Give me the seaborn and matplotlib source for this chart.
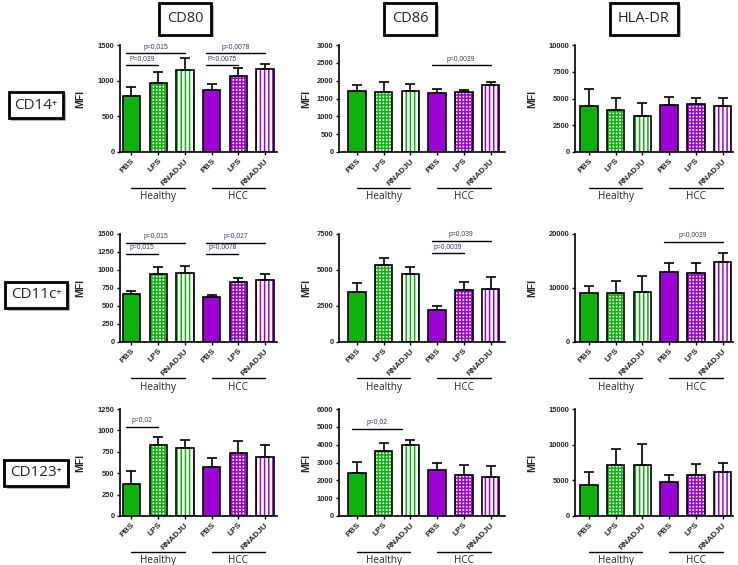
import numpy as np
import pandas as pd
import matplotlib
matplotlib.use('Agg')
import matplotlib.pyplot as plt
import matplotlib.patheffects as pe
from matplotlib.patches import Rectangle
import matplotlib.transforms as mtrans
import seaborn as sns

# ---- data ----
conditions = ['PBS', 'LPS', 'RNADJU']
groups = ['Healthy', 'HCC']
markers = ['CD80', 'CD86', 'HLA-DR']
populations = ['CD14\u207a', 'CD11c\u207a', 'CD123\u207a']

# bar order: Healthy PBS, LPS, RNADJU, HCC PBS, LPS, RNADJU
cd14_cd80 = [790, 970, 1150, 875, 1060, 1160]
cd14_cd80_err = [117, 158, 170, 80, 112, 75]
cd14_cd86 = [1720, 1695, 1710, 1665, 1675, 1880]
cd14_cd86_err = [160, 260, 190, 115, 75, 95]
cd14_hla = [4330, 3900, 3370, 4430, 4490, 4330]
cd14_hla_err = [1550, 1180, 1180, 680, 530, 690]

cd11c_cd80 = [670, 950, 965, 625, 830, 855]
cd11c_cd80_err = [35, 95, 95, 25, 56, 85]
cd11c_cd86 = [3500, 5350, 4700, 2200, 3600, 3700]
cd11c_cd86_err = [580, 500, 540, 320, 550, 800]
cd11c_hla = [9050, 9050, 9250, 12900, 12700, 14800]
cd11c_hla_err = [1400, 2250, 3050, 1700, 1950, 1700]

cd123_cd80 = [370, 825, 795, 570, 735, 685]
cd123_cd80_err = [160, 100, 95, 105, 145, 140]
cd123_cd86 = [2400, 3620, 4000, 2580, 2280, 2160]
cd123_cd86_err = [620, 480, 240, 400, 560, 660]
cd123_hla = [4300, 7200, 7100, 4750, 5800, 6100]
cd123_hla_err = [1800, 2250, 2950, 950, 1450, 1350]

yticks_cd14 = [[0, 500, 1000, 1500], list(range(0, 3001, 500)), [0, 2500, 5000, 7500, 10000]]
yticks_cd11c = [list(range(0, 1501, 250)), [0, 2500, 5000, 7500], [0, 10000, 20000]]
yticks_cd123 = [list(range(0, 1251, 250)), list(range(0, 6001, 1000)), [0, 5000, 10000, 15000]]

# significance brackets: (from bar, to bar, height, label)
sig_cd14 = [[(0, 2, 1385, 'p=0,015'), (0, 1, 1220, 'P=0,039'),
             (3, 5, 1385, 'p=0,0078'), (3, 4, 1220, 'P=0,0075')],
            [(3, 5, 2430, 'p=0,0039')],
            []]
sig_cd11c = [[(0, 2, 1380, 'p=0,015'), (0, 1, 1220, 'p=0,015'),
              (3, 5, 1380, 'p=0,027'), (3, 4, 1220, 'p=0,0078')],
             [(3, 5, 7000, 'p=0,039'), (3, 4, 6150, 'p=0,0039')],
             [(3, 5, 18550, 'p=0,0039')]]
sig_cd123 = [[(0, 1, 1040, 'p=0,02')],
             [(0, 1.7, 4890, 'p=0,02')],
             []]

means = [[cd14_cd80, cd14_cd86, cd14_hla],
         [cd11c_cd80, cd11c_cd86, cd11c_hla],
         [cd123_cd80, cd123_cd86, cd123_hla]]
errors = [[cd14_cd80_err, cd14_cd86_err, cd14_hla_err],
          [cd11c_cd80_err, cd11c_cd86_err, cd11c_hla_err],
          [cd123_cd80_err, cd123_cd86_err, cd123_hla_err]]
yticks = [yticks_cd14, yticks_cd11c, yticks_cd123]
sigs = [sig_cd14, sig_cd11c, sig_cd123]

# ---- style ----
GREEN = '#0db30d'
PURPLE = '#9d00d6'
bar_colors = [GREEN] * 3 + [PURPLE] * 3
bar_hatch = [None, '+++++', '||||'] * 2

sns.set_style('ticks')
plt.rcParams['font.family'] = ['Liberation Sans', 'DejaVu Sans']
plt.rcParams['hatch.linewidth'] = 1.1

W, H = 738, 565
fig = plt.figure(figsize=(W / 100, H / 100), dpi=100)
fig.patch.set_facecolor('white')

col_px = [(120, 277), (339, 505), (575, 733)]
row_px = [(45, 152), (234, 342), (409, 516)]
col_xlim = [(-0.43, 5.45), (-0.67, 5.54), (-0.52, 5.39)]
col_ylab = [-0.22, -0.165, -0.24]

bar_ids = [f'{g} {c}' for g in groups for c in conditions]


def draw_panel(ax, vals, errs, ticks, brackets, xlim, ylab_x):
    df = pd.DataFrame({'bar': bar_ids, 'mfi': vals})
    sns.barplot(data=df, x='bar', y='mfi', hue='bar', order=bar_ids, hue_order=bar_ids,
                palette=bar_colors, legend=False, width=0.65, dodge=False,
                errorbar=None, saturation=1, edgecolor='black', linewidth=1.2, ax=ax)
    for i, cont in enumerate(ax.containers):
        for p in cont.patches:
            if bar_hatch[i] is None:
                continue
            p.set_facecolor('white')
            p.set_edgecolor(bar_colors[i])
            p.set_hatch(bar_hatch[i])
            p.set_linewidth(0)
            ax.add_patch(Rectangle(p.get_xy(), p.get_width(), p.get_height(),
                                   fill=False, ec='black', lw=1.2, zorder=3))
    x = np.arange(len(vals))
    ax.errorbar(x, vals, yerr=[np.zeros(len(vals)), errs], fmt='none', ecolor='black',
                elinewidth=1.2, capsize=3.5, capthick=1.2, zorder=2)

    top = ticks[-1]
    for x0, x1, yv, lab in brackets:
        ax.plot([x0 - 0.2, x1], [yv, yv], color='black', lw=1.0, clip_on=False, zorder=4)
        ax.text((x0 - 0.2 + x1) / 2, yv + top * 0.025, lab, ha='center', va='bottom',
                fontsize=4.9, color='#3a3a66', clip_on=False)

    ax.set_xlim(*xlim)
    ax.set_ylim(0, top)
    ax.set_yticks(ticks)
    ax.set_yticklabels([str(t) for t in ticks], fontsize=5.4, fontweight='bold')
    ax.set_xticks(x)
    ax.set_xticklabels(conditions * 2, rotation=45, ha='right', rotation_mode='anchor',
                       fontsize=6.0, fontweight='bold')
    ax.tick_params(axis='both', length=2.5, width=1.0, pad=1.5, color='black')
    ax.set_xlabel('')
    ax.set_ylabel('MFI', fontsize=7.5, fontweight='bold')
    ax.yaxis.set_label_coords(ylab_x, 0.5)
    sns.despine(ax=ax)
    for s in ['left', 'bottom']:
        ax.spines[s].set_linewidth(1.2)
        ax.spines[s].set_color('black')

    # group lines under the tick labels
    trans = mtrans.blended_transform_factory(ax.transData, ax.transAxes)
    for gi, g in enumerate(groups):
        a, b = gi * 3, gi * 3 + 2
        ax.plot([a, b], [-0.335, -0.335], color='black', lw=1.0, transform=trans, clip_on=False)
        ax.text((a + b) / 2, -0.42, g, transform=trans, ha='center', va='center',
                fontsize=7.2, family=['Open Sans', 'DejaVu Sans'])


for r in range(3):
    for c in range(3):
        (l, rr), (t, b) = col_px[c], row_px[r]
        ax = fig.add_axes([l / W, 1 - b / H, (rr - l) / W, (b - t) / H])
        draw_panel(ax, means[r][c], errors[r][c], yticks[r][c], sigs[r][c],
                   col_xlim[c], col_ylab[c])

shadow = [pe.withSimplePatchShadow(offset=(2, -2), shadow_rgbFace='#888888', alpha=0.6)]

header_x = [185, 410, 644]
for m, hx in zip(markers, header_x):
    t = fig.text(hx / W, 1 - 19 / H, m, ha='center', va='center', fontsize=10.5,
                 family=['Open Sans', 'DejaVu Sans'],
                 bbox=dict(boxstyle='square,pad=0.55', fc='white', ec='black', lw=2))
    t.get_bbox_patch().set_path_effects(shadow)

row_label_y = [105, 295, 473]
for p, ry in zip(populations, row_label_y):
    t = fig.text(36 / W, 1 - ry / H, p, ha='center', va='center', fontsize=11,
                 family=['Open Sans', 'DejaVu Sans'],
                 bbox=dict(boxstyle='square,pad=0.38', fc='white', ec='black', lw=2))
    t.get_bbox_patch().set_path_effects(shadow)

fig.savefig('out.png', dpi=100, facecolor='white')
